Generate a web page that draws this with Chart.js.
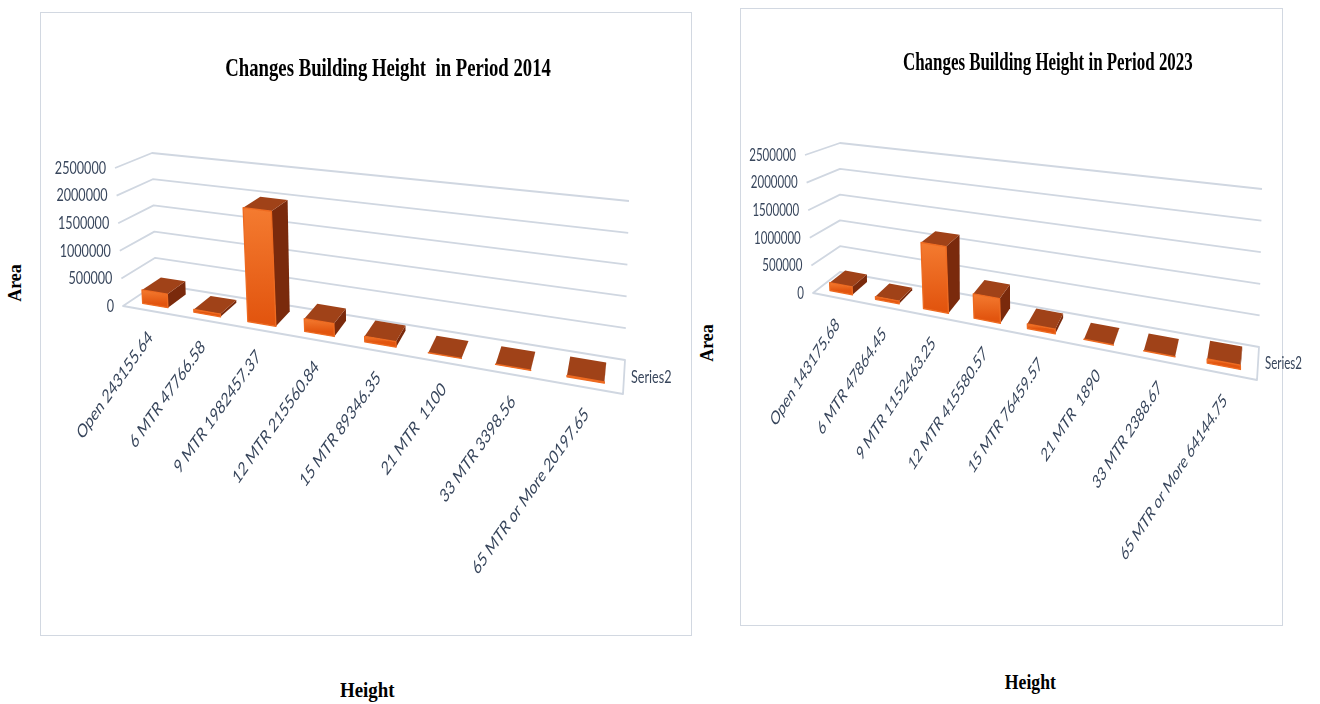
<!DOCTYPE html>
<html lang="en">
<head>
<meta charset="UTF-8">
<title>Changes Building Height</title>
<script src="https://cdn.jsdelivr.net/npm/chart.js"></script>
<style>
    body {
        margin: 0;
        width: 1320px;
        height: 704px;
        background: #fff;
        position: relative;
        overflow: hidden;
    }
    .panel {
        position: absolute;
        box-sizing: border-box;
        border: 1.5px solid #d2d8e1;
        background: #fff;
    }
    .panel canvas {
        position: absolute;
        left: -1.5px;
        top: -1.5px;
    }
    .label {
        position: absolute;
        text-align: center;
        font-family: 'Liberation Serif', 'Times New Roman', serif;
        font-weight: bold;
        color: #000;
    }
    .label span {
        display: inline-block;
        white-space: pre;
    }
</style>
</head>
<body>
    <div class="panel" id="p2014" style="left:40px; top:12px; width:652px; height:624px;">
        <canvas id="c2014" width="652" height="624"></canvas>
    </div>
    <div class="panel" id="p2023" style="left:740px; top:8px; width:543px; height:618px;">
        <canvas id="c2023" width="578" height="618"></canvas>
    </div>

    <div class="label" style="left:88px; width:600px; top:52px; font-size:26px; line-height:32px;"><span style="transform:scaleX(0.72);">Changes Building Height  in Period 2014</span></div>
    <div class="label" style="left:748px; width:600px; top:46px; font-size:26px; line-height:32px;"><span style="transform:scaleX(0.65);">Changes Building Height in Period 2023</span></div>

    <div class="label" style="left:-35px; width:100px; top:272px; font-size:18px; line-height:22px; transform:rotate(-90deg);">Area</div>
    <div class="label" style="left:657px; width:100px; top:332px; font-size:18px; line-height:22px; transform:rotate(-90deg);">Area</div>

    <div class="label" style="left:267px; width:200px; top:677px; font-size:21px; line-height:26px;"><span style="transform:scaleX(0.9);">Height</span></div>
    <div class="label" style="left:930px; width:200px; top:669px; font-size:21px; line-height:26px;"><span style="transform:scaleX(0.84);">Height</span></div>

<script>
// Data
const categories = ['Open', '6 MTR', '9 MTR', '12 MTR', '15 MTR', '21 MTR ', '33 MTR', '65 MTR or More'];
const area2014 = [243155.64, 47766.58, 1982457.37, 215560.84, 89346.35, 1100, 3398.56, 20197.65];
const area2023 = [143175.68, 47864.45, 1152463.25, 415580.57, 76459.57, 1890, 2388.67, 64144.75];
const yTicks = [0, 500000, 1000000, 1500000, 2000000, 2500000];
const seriesName = 'Series2';

const TEXT = '#38465c';
const GRID = '#d0d7e1';

// 3D box corners (page coords): front/back, bottom/top, left/right
const box2014 = {
    fbl: [123, 306], fbr: [623, 394], ftl: [115, 168], ftr: [619, 226],
    bbl: [156, 284], bbr: [625, 360], btl: [152, 153], btr: [629, 201]
};
const box2023 = {
    fbl: [813, 293], fbr: [1257, 380], ftl: [805, 155], ftr: [1253, 212],
    bbl: [840, 272], bbr: [1259, 347], btl: [840, 143], btr: [1262, 189]
};

function lerp(p, q, t) {
    return [p[0] + (q[0] - p[0]) * t, p[1] + (q[1] - p[1]) * t];
}

// u: along categories, v: value fraction, d: depth (0 front, 1 back)
function makeProjection(box, origin, r) {
    const c = {};
    for (const k in box) c[k] = [box[k][0] - origin[0], box[k][1] - origin[1]];
    const s = u => r * u / (1 - (1 - r) * u);
    return (u, v, d) => {
        const a = s(u);
        const f = lerp(lerp(c.fbl, c.fbr, a), lerp(c.ftl, c.ftr, a), v);
        const b = lerp(lerp(c.bbl, c.bbr, a), lerp(c.btl, c.btr, a), v);
        return lerp(f, b, d);
    };
}

function poly(ctx, pts) {
    ctx.beginPath();
    ctx.moveTo(pts[0][0], pts[0][1]);
    for (let i = 1; i < pts.length; i++) ctx.lineTo(pts[i][0], pts[i][1]);
    ctx.closePath();
}

function text(ctx, str, x, y, sq, angle, align) {
    ctx.save();
    ctx.translate(x, y);
    ctx.scale(sq, 1);
    ctx.rotate(angle);
    ctx.textAlign = align;
    ctx.textBaseline = 'middle';
    ctx.fillText(str, 0, 0);
    ctx.restore();
}

const box3d = {
    id: 'box3d',
    beforeDatasetsDraw(chart, args, opts) {
        const ctx = chart.ctx;
        const area = chart.chartArea;
        const xs = chart.scales.x, ys = chart.scales.y;
        const P = makeProjection(opts.corners, opts.origin, 0.8);
        const uOf = px => (px - area.left) / (area.right - area.left);
        const vOf = py => (area.bottom - py) / (area.bottom - area.top);
        const sq = opts.squeeze;

        ctx.save();
        ctx.lineJoin = 'round';

        // walls and floor
        ctx.strokeStyle = GRID;
        ctx.lineWidth = 1.8;
        yTicks.forEach(t => {
            const v = vOf(ys.getPixelForValue(t));
            if (v <= 0) return;
            const a = P(0, v, 0), b = P(0, v, 1), c = P(1, v, 1);
            ctx.beginPath();
            ctx.moveTo(a[0], a[1]);
            ctx.lineTo(b[0], b[1]);
            ctx.lineTo(c[0], c[1]);
            ctx.stroke();
        });
        poly(ctx, [P(0, 0, 0), P(1, 0, 0), P(1, 0, 1), P(0, 0, 1)]);
        ctx.stroke();

        // value axis labels
        ctx.fillStyle = TEXT;
        ctx.font = '18px Lato, "Open Sans", sans-serif';
        yTicks.forEach(t => {
            const p = P(0, vOf(ys.getPixelForValue(t)), 0);
            text(ctx, String(t), p[0] - 9, p[1], sq, 0, 'right');
        });

        // bars as boxes
        const d0 = 0.22, d1 = 0.8;
        chart.getDatasetMeta(0).data.forEach(el => {
            const { x, y, base, width } = el.getProps(['x', 'y', 'base', 'width'], true);
            const uL = uOf(x - width / 2), uR = uOf(x + width / 2);
            const v0 = vOf(base), v1 = vOf(y);

            poly(ctx, [P(uR, v0, d0), P(uR, v0, d1), P(uR, v1, d1), P(uR, v1, d0)]);
            ctx.fillStyle = '#7a2a0c';
            ctx.fill();

            poly(ctx, [P(uL, v1, d0), P(uR, v1, d0), P(uR, v1, d1), P(uL, v1, d1)]);
            ctx.fillStyle = '#a04218';
            ctx.fill();

            const ft = P(uL, v1, d0), fb = P(uL, v0, d0);
            const g = ctx.createLinearGradient(0, ft[1], 0, fb[1] + 0.1);
            g.addColorStop(0, '#f47b30');
            g.addColorStop(1, '#e2550f');
            poly(ctx, [P(uL, v0, d0), P(uR, v0, d0), P(uR, v1, d0), P(uL, v1, d0)]);
            ctx.fillStyle = g;
            ctx.strokeStyle = '#ee6a20';
            ctx.lineWidth = 1.3;
            ctx.fill();
            ctx.stroke();
        });

        // category labels
        ctx.fillStyle = TEXT;
        ctx.font = '19px Lato, "Open Sans", sans-serif';
        chart.data.labels.forEach((lab, i) => {
            const p = P(uOf(xs.getPixelForValue(i)), 0, 0);
            text(ctx, lab, p[0] + 2, p[1] + 24, sq, -Math.PI / 4, 'right');
        });

        // series name on the depth axis
        ctx.font = '18px Lato, "Open Sans", sans-serif';
        const sp = P(1, 0, 0.5);
        text(ctx, chart.data.datasets[0].label, sp[0] + 7, sp[1], sq, 0, 'left');

        ctx.restore();
        return false;
    }
};

function buildChart(id, values, corners, origin, squeeze) {
    return new Chart(document.getElementById(id), {
        type: 'bar',
        data: {
            labels: categories.map((c, i) => c + ' ' + values[i]),
            datasets: [{
                label: seriesName,
                data: values,
                backgroundColor: '#ed6a20',
                barPercentage: 0.5,
                categoryPercentage: 1
            }]
        },
        options: {
            responsive: false,
            animation: false,
            layout: { padding: 0 },
            plugins: {
                legend: { display: false },
                tooltip: { enabled: false },
                box3d: { corners: corners, origin: origin, squeeze: squeeze }
            },
            scales: {
                x: { display: false },
                y: {
                    display: false,
                    min: yTicks[0],
                    max: yTicks[yTicks.length - 1],
                    ticks: { stepSize: yTicks[1] - yTicks[0] }
                }
            }
        },
        plugins: [box3d]
    });
}

buildChart('c2014', area2014, box2014, [40, 12], 0.70);
buildChart('c2023', area2023, box2023, [740, 8], 0.64);
</script>
</body>
</html>
